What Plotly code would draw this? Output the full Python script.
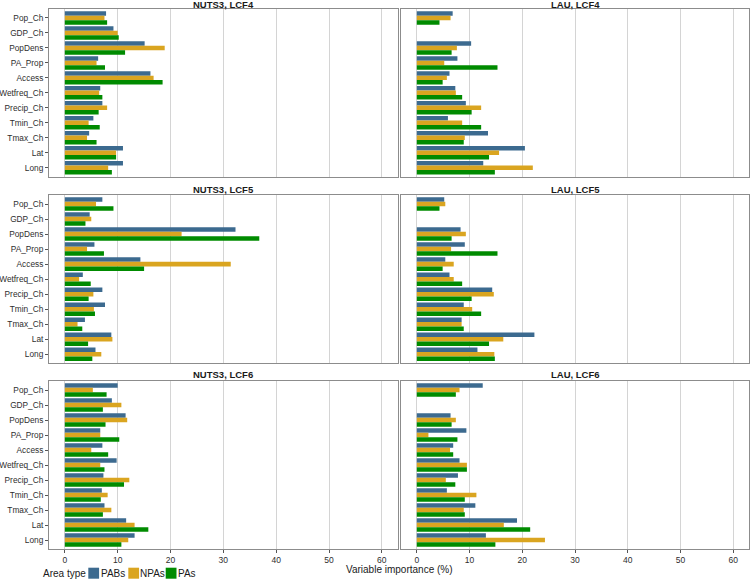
import plotly.graph_objects as go

categories = ["Pop_Ch", "GDP_Ch", "PopDens", "PA_Prop", "Access", "Wetfreq_Ch",
              "Precip_Ch", "Tmin_Ch", "Tmax_Ch", "Lat", "Long"]
series_names = ["PABs", "NPAs", "PAs"]
series_colors = ["#3C6A8F", "#DAA520", "#008B00"]
x_ticks = [0, 10, 20, 30, 40, 50, 60]

nuts3_lcf4_pabs = [7.8, 9.2, 15.1, 6.3, 16.2, 6.7, 7.1, 5.4, 4.6, 11.0, 11.0]
nuts3_lcf4_npas = [7.5, 10.0, 18.9, 6.0, 16.8, 6.5, 8.0, 4.5, 4.2, 9.7, 8.2]
nuts3_lcf4_pas = [8.0, 10.2, 11.4, 7.6, 18.5, 7.1, 6.4, 6.6, 6.0, 9.7, 8.9]

lau_lcf4_pabs = [6.8, None, 10.3, 7.7, 6.2, 7.3, 9.3, 5.9, 13.5, 20.5, 12.6]
lau_lcf4_npas = [6.4, None, 7.6, 5.2, 5.7, 7.4, 12.2, 8.6, 9.1, 15.6, 22.0]
lau_lcf4_pas = [4.3, None, 6.6, 15.3, 4.9, 8.6, 10.4, 12.2, 8.9, 13.7, 14.8]

nuts3_lcf5_pabs = [7.1, 4.7, 32.3, 5.6, 14.3, 3.4, 7.1, 7.6, 3.8, 8.8, 5.8]
nuts3_lcf5_npas = [5.9, 5.0, 22.1, 4.2, 31.4, 2.7, 5.4, 5.5, 2.4, 9.0, 6.9]
nuts3_lcf5_pas = [9.2, 3.9, 36.8, 7.4, 15.0, 4.9, 4.5, 5.7, 3.3, 4.4, 5.2]

lau_lcf5_pabs = [5.2, None, 8.3, 9.1, 5.4, 6.2, 14.3, 8.9, 8.5, 22.3, 11.5]
lau_lcf5_npas = [5.4, None, 9.3, 6.5, 7.0, 7.0, 14.6, 10.5, 8.5, 16.4, 14.7]
lau_lcf5_pas = [4.3, None, 6.6, 15.3, 4.9, 8.6, 10.4, 12.2, 8.9, 13.7, 14.8]

nuts3_lcf6_pabs = [10.0, 8.9, 11.5, 6.7, 7.1, 9.8, 7.3, 7.0, 7.5, 11.6, 13.2]
nuts3_lcf6_npas = [5.3, 10.7, 11.8, 6.7, 5.0, 6.7, 12.2, 8.1, 8.8, 13.2, 12.0]
nuts3_lcf6_pas = [7.9, 7.2, 7.7, 10.3, 8.2, 7.5, 11.2, 6.8, 7.2, 15.8, 10.7]

lau_lcf6_pabs = [12.5, None, 6.4, 9.4, 6.9, 8.1, 7.8, 5.7, 11.1, 19.0, 13.1]
lau_lcf6_npas = [8.1, None, 7.4, 2.2, 6.3, 9.5, 5.5, 11.3, 8.9, 16.5, 24.3]
lau_lcf6_pas = [7.4, None, 6.6, 7.7, 6.9, 9.5, 7.3, 9.1, 9.1, 21.5, 14.9]

panels = [
    ("NUTS3, LCF4", [nuts3_lcf4_pabs, nuts3_lcf4_npas, nuts3_lcf4_pas]),
    ("LAU, LCF4", [lau_lcf4_pabs, lau_lcf4_npas, lau_lcf4_pas]),
    ("NUTS3, LCF5", [nuts3_lcf5_pabs, nuts3_lcf5_npas, nuts3_lcf5_pas]),
    ("LAU, LCF5", [lau_lcf5_pabs, lau_lcf5_npas, lau_lcf5_pas]),
    ("NUTS3, LCF6", [nuts3_lcf6_pabs, nuts3_lcf6_npas, nuts3_lcf6_pas]),
    ("LAU, LCF6", [lau_lcf6_pabs, lau_lcf6_npas, lau_lcf6_pas]),
]

W, H = 750, 579
ML, MR, MT, MB = 49, 1, 9, 30
PW, PH = W - ML - MR, H - MT - MB


def px_x(px):
    return (px - ML) / PW


def px_y(py):
    return (H - MB - py) / PH


col_dom = [[0, px_x(397.7)], [px_x(401), 1]]
row_px = [(9, 176.7), (195, 363.3), (381, 549)]
row_dom = [[px_y(b), px_y(t)] for t, b in row_px]
title_py = [4.8, 189.3, 374.7]

FONT = "Liberation Sans, Arial, Helvetica, sans-serif"
TICK_FONT = dict(size=8.3, color="#2E2E2E", family=FONT)
fig = go.Figure()
layout = dict(
    template="none",
    width=W, height=H,
    margin=dict(l=ML, r=MR, t=MT, b=MB, pad=0, autoexpand=False),
    paper_bgcolor="white", plot_bgcolor="white",
    barmode="group", bargap=0.1, bargroupgap=0,
    showlegend=False,
    font=dict(family=FONT, size=9, color="#333333"),
    annotations=[], shapes=[],
)

for i, (title, vals) in enumerate(panels):
    r, c = divmod(i, 2)
    n = i + 1
    xa = "x" if n == 1 else f"x{n}"
    ya = "y" if n == 1 else f"y{n}"
    for s in range(3):
        fig.add_trace(go.Bar(
            x=vals[s], y=categories, orientation="h",
            name=series_names[s], marker=dict(color=series_colors[s], line=dict(width=0)),
            xaxis=xa, yaxis=ya, showlegend=False, hoverinfo="skip",
        ))
    bottom = (r == 2)
    left = (c == 0)
    layout["xaxis" if n == 1 else f"xaxis{n}"] = dict(
        domain=col_dom[c], anchor=ya, range=[-3, 63], automargin=False,
        tickvals=x_ticks, ticktext=[str(v) for v in x_ticks],
        showticklabels=bottom, ticks="outside" if bottom else "",
        ticklen=3, tickcolor="#555555", tickwidth=1,
        tickfont=dict(size=8.5, color="#2E2E2E", family=FONT),
        showgrid=True, gridcolor="#D4D4D4", gridwidth=1, zeroline=False,
        showline=True, mirror=True, linecolor="#8C8C8C", linewidth=1,
        fixedrange=True,
    )
    layout["yaxis" if n == 1 else f"yaxis{n}"] = dict(
        domain=row_dom[r], anchor=xa, type="category", automargin=False,
        categoryorder="array", categoryarray=categories,
        range=[10.6, -0.6],
        showticklabels=left, ticks="outside" if left else "",
        ticklen=3, tickcolor="#555555", tickwidth=1,
        tickfont=TICK_FONT,
        showgrid=False, zeroline=False,
        showline=True, mirror=True, linecolor="#8C8C8C", linewidth=1,
        fixedrange=True,
    )
    layout["annotations"].append(dict(
        text=f"<b>{title}</b>", xref="paper", yref="paper",
        x=sum(col_dom[c]) / 2, y=px_y(title_py[r]),
        xanchor="center", yanchor="middle", showarrow=False,
        font=dict(size=9.5, color="#1A1A1A", family=FONT), borderpad=0,
    ))

# x-axis title
layout["annotations"].append(dict(
    text="Variable importance (%)", xref="paper", yref="paper",
    x=0.5, y=px_y(569.5), xanchor="center", yanchor="middle", showarrow=False,
    font=dict(size=10, color="#1A1A1A", family=FONT), borderpad=0,
))

# legend (drawn manually to match the compact layout)
leg_y0, leg_y1 = 567.7, 578.7
layout["annotations"].append(dict(
    text="Area type", xref="paper", yref="paper",
    x=px_x(42), y=px_y(573), xanchor="left", yanchor="middle", showarrow=False,
    font=dict(size=10, color="#1A1A1A", family=FONT), borderpad=0,
))
key_x = [88.3, 128.3, 165.7]
label_x = [100.3, 139.0, 177.0]
for s in range(3):
    layout["shapes"].append(dict(
        type="rect", xref="paper", yref="paper",
        x0=px_x(key_x[s]), x1=px_x(key_x[s] + 10.8),
        y0=px_y(leg_y1), y1=px_y(leg_y0),
        fillcolor=series_colors[s], line=dict(width=0),
    ))
    layout["annotations"].append(dict(
        text=series_names[s], xref="paper", yref="paper",
        x=px_x(label_x[s]), y=px_y(573), xanchor="left", yanchor="middle",
        showarrow=False, font=dict(size=10, color="#1A1A1A", family=FONT), borderpad=0,
    ))

fig.update_layout(**layout)
fig.write_html(
    "out.html",
    config={"displayModeBar": False, "staticPlot": True},
    post_script="document.body.style.margin='0';document.body.style.overflow='hidden';",
)
